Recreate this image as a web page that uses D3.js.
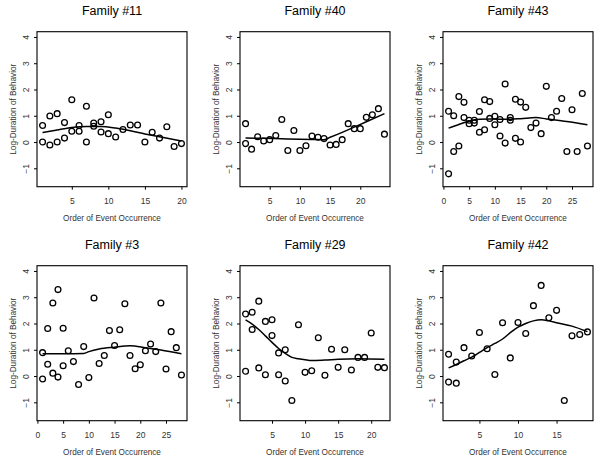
<!DOCTYPE html>
<html>
<head>
<meta charset="utf-8">
<script src="https://cdn.jsdelivr.net/npm/d3@7"></script>
<style>
  html, body { margin: 0; padding: 0; background: #fff; }
  svg { display: block; }
  text { font-family: "Liberation Sans", Arial, Helvetica, sans-serif; }
</style>
</head>
<body>
<svg id="chart" width="600" height="460"></svg>
<script>
// ---------- DATA ----------
const titles = ["Family #11", "Family #40", "Family #43", "Family #3", "Family #29", "Family #42"];
const xTitle = "Order of Event Occurrence";
const yTitle = "Log-Duration of Behavior";
const yTicks = [-1, 0, 1, 2, 3, 4];

const f11X = [1,1,2,2,3,3,4,4,5,5,6,6,7,7,8,8,9,9,10,10,11,12,13,14,15,16,17,18,19,20];
const f11Y = [0.63,0.0,0.99,-0.11,1.08,0.0,0.74,0.15,1.61,0.41,0.63,0.41,1.36,0.0,0.72,0.6,0.77,0.38,1.04,0.32,0.19,0.48,0.65,0.65,0.0,0.37,0.15,0.58,-0.17,-0.06];
const f11FitX = [1,3,5,7,9,11,13,15,17,20];
const f11FitY = [0.36,0.46,0.55,0.59,0.59,0.53,0.43,0.31,0.2,0.04];
const f11Ticks = [5,10,15,20];

const f40X = [1,1,2,3,4,5,6,7,8,9,10,11,12,13,14,15,16,17,18,19,20,21,22,23,24];
const f40Y = [0.70,-0.06,-0.27,0.2,0.04,0.09,0.25,0.86,-0.32,0.44,-0.32,-0.14,0.23,0.18,0.13,-0.11,-0.09,0.09,0.7,0.51,0.51,0.94,1.04,1.27,0.3];
const f40FitX = [1,4,8,12,14,15,17,19,21,24];
const f40FitY = [0.15,0.14,0.12,0.1,0.09,0.18,0.37,0.57,0.77,1.08];
const f40Ticks = [5,10,15,20];

const f43X = [1,1,2,2,3,3,4,4,5,5,6,6,7,7,8,8,9,9,10,10,11,11,12,12,13,13,14,14,15,15,16,17,18,19,20,21,22,23,24,25,26,27,28];
const f43Y = [1.17,-1.21,1.0,-0.36,1.73,-0.15,1.51,0.93,0.83,0.70,0.83,0.72,1.16,0.37,1.61,0.47,1.54,0.9,0.98,0.66,0.86,0.23,2.21,-0.04,0.93,0.83,1.63,0.14,1.52,0.0,1.32,0.55,0.72,0.32,2.12,0.93,1.17,1.66,-0.36,1.23,-0.36,1.85,-0.15];
const f43FitX = [1,3,5,7,9,11,13,15,18,20,24,28];
const f43FitY = [0.53,0.67,0.8,0.87,0.88,0.87,0.87,0.89,0.93,0.88,0.78,0.66];
const f43Ticks = [0,5,10,15,20,25];

const f3X = [1,1,2,2,3,3,4,4,5,5,6,7,8,9,10,11,12,13,14,15,16,17,18,19,20,21,22,23,24,25,26,27,28];
const f3Y = [0.89,-0.11,1.81,0.45,2.78,0.11,3.29,-0.04,1.82,0.39,0.96,0.55,-0.32,1.12,-0.06,2.97,0.48,0.78,1.73,1.16,1.76,2.75,0.78,0.28,0.43,0.96,1.22,0.93,2.78,0.27,1.69,1.08,0.04];
const f3FitX = [1,5,9,10,12,15,18,21,24,28];
const f3FitY = [0.85,0.85,0.86,0.93,1.03,1.1,1.15,1.08,0.99,0.85];
const f3Ticks = [0,5,10,15,20,25];

const f29X = [1,1,2,2,3,3,4,4,5,5,6,6,7,7,8,9,10,11,12,13,14,15,16,17,18,19,20,21,22];
const f29Y = [2.36,0.18,2.43,1.77,2.85,0.31,2.08,0.05,2.14,1.54,0.88,0.05,1.0,-0.19,-0.93,1.95,0.14,0.2,1.46,0.03,1.02,0.33,1.0,0.23,0.71,0.71,1.64,0.33,0.32];
const f29FitX = [1,2,3,4,5,6,7,8,9,10,11,13,15,18,22];
const f29FitY = [2.14,1.98,1.77,1.53,1.28,1.05,0.86,0.71,0.66,0.62,0.59,0.61,0.64,0.66,0.64];
const f29Ticks = [5,10,15,20];

const f42X = [1,1,2,2,3,4,5,6,7,8,9,10,11,12,13,14,15,16,17,18,19];
const f42Y = [0.83,-0.23,0.53,-0.27,1.08,0.76,1.66,1.04,0.06,2.03,0.69,2.04,1.62,2.68,3.45,2.22,2.5,-0.93,1.53,1.58,1.68];
const f42FitX = [1,2,3,4,5,6,7,8,9,10,11,12,13,14,15,17,19];
const f42FitY = [0.31,0.44,0.58,0.72,0.9,1.08,1.24,1.41,1.65,1.86,2.0,2.1,2.14,2.1,2.03,1.9,1.69];
const f42Ticks = [5,10,15];

const panels = [
  {title: titles[0], x: f11X, y: f11Y, fx: f11FitX, fy: f11FitY, ticks: f11Ticks},
  {title: titles[1], x: f40X, y: f40Y, fx: f40FitX, fy: f40FitY, ticks: f40Ticks},
  {title: titles[2], x: f43X, y: f43Y, fx: f43FitX, fy: f43FitY, ticks: f43Ticks},
  {title: titles[3], x: f3X,  y: f3Y,  fx: f3FitX,  fy: f3FitY,  ticks: f3Ticks},
  {title: titles[4], x: f29X, y: f29Y, fx: f29FitX, fy: f29FitY, ticks: f29Ticks},
  {title: titles[5], x: f42X, y: f42Y, fx: f42FitX, fy: f42FitY, ticks: f42Ticks}
];

// ---------- LAYOUT ----------
const colLeft = [37, 240, 443];
const rowTop = [31.7, 265.7];
const pw = 150, ph = 155;
const yDomain = [-1.7, 4.2];
const textCol = "#333";

const svg = d3.select("#chart");

panels.forEach((p, i) => {
  const left = colLeft[i % 3];
  const top = rowTop[Math.floor(i / 3)];
  const g = svg.append("g").attr("transform", `translate(${left},${top})`);

  const xmin = d3.min(p.x), xmax = d3.max(p.x);
  const pad = 0.04 * (xmax - xmin);
  const x = d3.scaleLinear().domain([xmin - pad, xmax + pad]).range([0, pw]);
  const y = d3.scaleLinear().domain(yDomain).range([ph, 0]);

  // x axis
  const xAxis = g.append("g").attr("transform", `translate(0,${ph})`)
    .call(d3.axisBottom(x).tickValues(p.ticks).tickSize(3).tickPadding(5).tickFormat(d3.format("d")));
  xAxis.select(".domain").remove();
  xAxis.selectAll("line").attr("stroke", "#000").attr("stroke-width", 1);
  xAxis.selectAll("text").attr("font-size", 8.5).attr("fill", textCol)
    .attr("font-family", "Liberation Sans, Arial, sans-serif")
    .attr("dy", null).attr("y", 17.5);

  // y axis
  const yAxis = g.append("g")
    .call(d3.axisLeft(y).tickValues(yTicks).tickSize(3).tickFormat(d3.format("d")));
  yAxis.select(".domain").remove();
  yAxis.selectAll("line").attr("stroke", "#000").attr("stroke-width", 1);
  yAxis.selectAll("text")
    .attr("font-size", 8.5).attr("fill", textCol)
    .attr("font-family", "Liberation Sans, Arial, sans-serif")
    .attr("x", null).attr("dy", null)
    .attr("text-anchor", "middle")
    .attr("transform", "translate(-8.5,0) rotate(-90)");

  // box
  g.append("rect").attr("x", 0).attr("y", 0).attr("width", pw).attr("height", ph)
    .attr("fill", "none").attr("stroke", "#000").attr("stroke-width", 1.1);

  // fit line
  const fit = p.fx.map((v, k) => [v, p.fy[k]]);
  g.append("path").datum(fit)
    .attr("d", d3.line().x(d => x(d[0])).y(d => y(d[1])).curve(d3.curveMonotoneX))
    .attr("fill", "none").attr("stroke", "#000").attr("stroke-width", 1.5);

  // points
  const pts = p.x.map((v, k) => [v, p.y[k]]);
  g.selectAll("circle.pt").data(pts).enter().append("circle")
    .attr("class", "pt")
    .attr("cx", d => x(d[0])).attr("cy", d => y(d[1]))
    .attr("r", 2.9).attr("fill", "none").attr("stroke", "#000").attr("stroke-width", 1.3);

  // title
  g.append("text").attr("x", pw / 2).attr("y", -16.7)
    .attr("text-anchor", "middle").attr("font-size", 12.5).attr("fill", "#000")
    .text(p.title);

  // x title
  g.append("text").attr("x", pw / 2).attr("y", ph + 34.5)
    .attr("text-anchor", "middle").attr("font-size", 8.2).attr("fill", textCol)
    .text(xTitle);

  // y title
  g.append("text").attr("transform", `translate(-20.7,${ph / 2}) rotate(-90)`)
    .attr("text-anchor", "middle").attr("font-size", 8.2).attr("fill", textCol)
    .text(yTitle);
});
</script>
</body>
</html>
